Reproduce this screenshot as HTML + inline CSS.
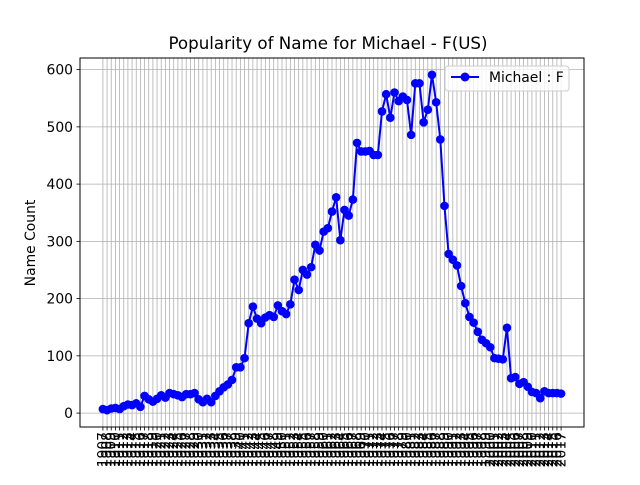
<!DOCTYPE html>
<html><head><meta charset="utf-8"><style>body{margin:0;background:#fff}svg{font-family:"DejaVu Sans","Liberation Sans",sans-serif}</style></head>
<body>
<svg id="chart" width="640" height="480" xmlns="http://www.w3.org/2000/svg">
<rect width="640" height="480" fill="#fff"/>
<text x="328" y="49" text-anchor="middle" font-size="16.7">Popularity of Name for Michael - F(US)</text>
<text transform="translate(35,243) rotate(-90)" text-anchor="middle" font-size="13.9">Name Count</text>
<g id="grid"></g><g id="ticks"></g><g id="series"></g>
<rect x="80" y="58" width="504" height="369" fill="none" stroke="#000" stroke-width="1"/>
<g>
<rect x="445" y="66" width="124" height="25" rx="3" fill="#fff" fill-opacity="0.8" stroke="#ccc"/>
<line x1="451" y1="77" x2="479" y2="77" stroke="#0000ff" stroke-width="2"/>
<circle cx="465" cy="77" r="4.5" fill="#0000ff"/>
<text x="489" y="82" font-size="13.9">Michael : F</text>
</g>
</svg>
<script>
const years = [];
for (let y = 1907; y <= 2017; y++) years.push(y);
const counts = [7,5,8,9,7,12,15,14,17,11,30,24,20,25,31,27,35,33,31,28,33,33,35,24,19,25,19,30,38,45,50,58,
80,80,96,157,186,165,157,167,171,168,188,178,173,190,233,215,250,242,255,294,284,317,323,352,377,302,355,345,373,
472,457,457,458,451,451,527,557,516,560,545,553,547,486,576,576,508,530,591,543,478,362,
278,268,258,222,192,168,158,142,128,122,115,96,95,94,149,
61,63,51,54,46,37,35,26,38,35,35,35,34];
const yTicks = [0,100,200,300,400,500,600];
const NS = "http://www.w3.org/2000/svg";
const L=80,R=584,T=58,B=427;
const n = years.length;
const xmin = -0.05*(n-1), xmax = (n-1)*1.05;
const cmin = Math.min(...counts), cmax = Math.max(...counts);
const ymin = cmin-0.05*(cmax-cmin), ymax = cmax+0.05*(cmax-cmin);
const xs = i => L + (i - xmin)/(xmax - xmin)*(R-L);
const ys = v => B - (v - ymin)/(ymax - ymin)*(B-T);
const grid = document.getElementById('grid'), ticks = document.getElementById('ticks'), series = document.getElementById('series');
function mk(tag, attrs, parent){const e=document.createElementNS(NS,tag);for(const k in attrs)e.setAttribute(k,attrs[k]);parent.appendChild(e);return e;}
years.forEach((yr,i)=>{
  const x = xs(i);
  const g = mk('line',{x1:x,x2:x,y1:T,y2:B,stroke:'#b0b0b0','stroke-width':0.8},grid);
  
  
  mk('line',{x1:x,x2:x,y1:B,y2:B+3.5,stroke:'#000','stroke-width':0.8},ticks);
  const t = mk('text',{transform:`translate(${x+4.5},${B+5}) rotate(-90)`,'text-anchor':'end','font-size':13.9},ticks);
  t.textContent = yr;
  
  
});
yTicks.forEach(v=>{
  const y = ys(v);
  const g = mk('line',{x1:L,x2:R,y1:y,y2:y,stroke:'#b0b0b0','stroke-width':0.8},grid);
  
  
  mk('line',{x1:L-3.5,x2:L,y1:y,y2:y,stroke:'#000','stroke-width':0.8},ticks);
  const t = mk('text',{x:L-7,y:y+5,'text-anchor':'end','font-size':13.9},ticks);
  t.textContent = v;
  
  
});
const line = mk('polyline',{points:counts.map((v,i)=>xs(i)+','+ys(v)).join(' '),fill:'none',stroke:'#0000ff','stroke-width':2},series);


counts.forEach((v,i)=>{
  const c = mk('circle',{cx:xs(i),cy:ys(v),r:4.3,fill:'#0000ff'},series);
  
  
});
</script>
</body></html>
